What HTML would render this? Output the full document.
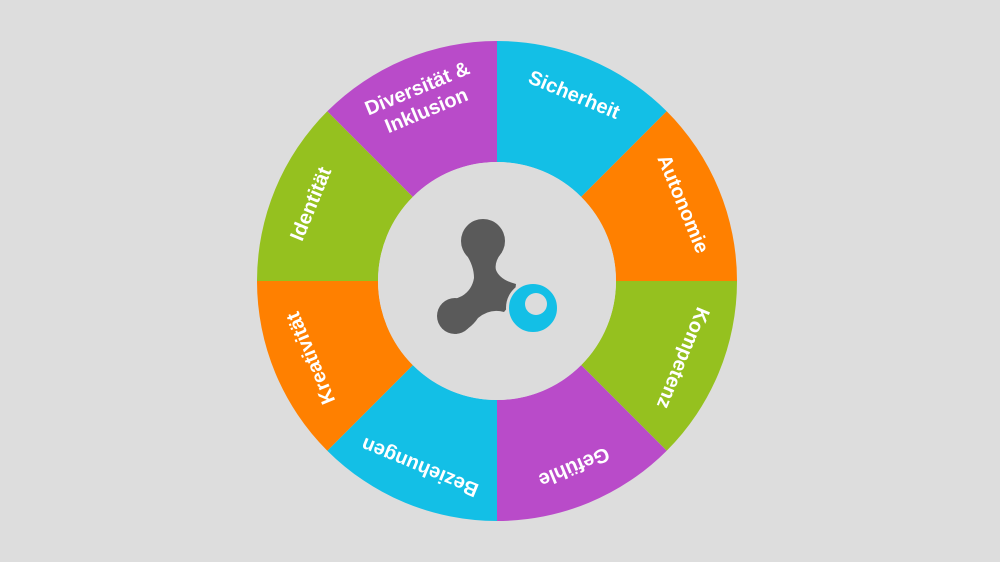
<!DOCTYPE html>
<html><head><style>
html,body{margin:0;padding:0;background:#dddddd;}
svg{display:block}
text{font-family:"Liberation Sans",sans-serif;font-weight:bold;fill:#fff;font-size:20px;text-anchor:middle;dominant-baseline:central}
</style></head><body>
<svg width="1000" height="562" viewBox="0 0 1000 562">
<rect width="1000" height="562" fill="#dddddd"/>
<g id="ring"></g>
<circle cx="497" cy="281" r="119" fill="#dcdcdc"/>
<g fill="#5a5a5a">
<circle cx="483" cy="241" r="22"/>
<circle cx="455" cy="316" r="18"/>
<path d="M466 254 Q474 266 474 278 Q472 290 462 296 L444 304 L456 334 Q470 330 478 318 Q490 308 504 312 L514 300 L516 284 Q500 280 496 270 Q494 262 502 252 Z"/>
</g>
<circle cx="533" cy="308" r="25.5" fill="#13bfe6" stroke="#dcdcdc" stroke-width="3"/>
<circle cx="536" cy="304" r="11" fill="#dcdcdc"/>
</svg>
<script>
const cx=497,cy=281,R=240,r=119;
const cols=["#13bfe6","#ff8000","#95c11f","#b94bc9","#13bfe6","#ff8000","#95c11f","#b94bc9"];
const labels=[["Sicherheit"],["Autonomie"],["Kompetenz"],["Gefühle"],["Beziehungen"],["Kreativität"],["Identität"],["Diversität &","Inklusion"]];
let s="";
for(let i=0;i<8;i++){
 const a0=(-90+45*i)*Math.PI/180,a1=(-90+45*(i+1))*Math.PI/180;
 const p=(a,rr)=>[cx+rr*Math.cos(a),cy+rr*Math.sin(a)];
 const [x0,y0]=p(a0,R),[x1,y1]=p(a1,R),[x2,y2]=p(a1,r),[x3,y3]=p(a0,r);
 s+=`<path d="M${x0} ${y0} A${R} ${R} 0 0 1 ${x1} ${y1} L${x2} ${y2} A${r} ${r} 0 0 0 ${x3} ${y3}Z" fill="${cols[i]}"/>`;
 const m=-67.5+45*i, mr=m*Math.PI/180, tr=L2(i);
 const tx=cx+tr*Math.cos(mr),ty=cy+tr*Math.sin(mr);
 const L=labels[i];
 if(L.length==1) s+=`<text transform="translate(${tx} ${ty}) rotate(${m+90})">${L[0]}</text>`;
 else s+=`<text transform="translate(${tx} ${ty}) rotate(${m+90})"><tspan x="0" y="-12">${L[0]}</tspan><tspan x="0" y="12">${L[1]}</tspan></text>`;
}
function L2(i){return i==7?196:201;}
document.getElementById("ring").innerHTML=s;
</script>
</body></html>
